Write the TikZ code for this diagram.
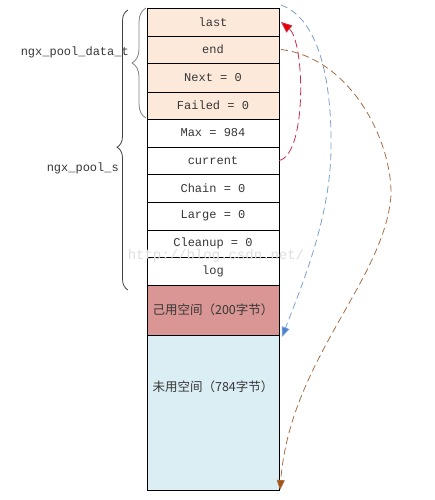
\documentclass[tikz,border=0pt]{standalone}
\usepackage{fontspec}
\setmainfont{Liberation Mono}
\newfontfamily\cjk{Noto Sans CJK SC}
\usetikzlibrary{arrows.meta,decorations.pathreplacing}
\definecolor{peach}{RGB}{252,233,218}
\definecolor{usedc}{RGB}{217,150,148}
\definecolor{freec}{RGB}{219,238,244}
\definecolor{txt}{RGB}{55,55,55}
\definecolor{redc}{RGB}{205,45,75}
\definecolor{redhead}{RGB}{230,0,0}
\definecolor{bluec}{RGB}{120,160,205}
\definecolor{bluehead}{RGB}{70,130,210}
\definecolor{brownc}{RGB}{165,110,70}
\definecolor{brownhead}{RGB}{170,80,10}
\tikzset{
  cell/.style={draw=black, line width=0.7pt, minimum width=132pt, inner sep=0pt, outer sep=0pt, text=txt, font=\fontsize{12}{14}\selectfont},
  lbl/.style={text=txt, font=\fontsize{12}{14}\selectfont, inner sep=0pt},
  cjktext/.style={font=\cjk\fontsize{12.5}{14}\selectfont},
  ptr/.style={dash pattern=on 7pt off 4pt, line width=0.8pt},
  bracestyle/.style={decorate, line width=0.8pt}
}
\begin{document}
\begin{tikzpicture}[x=1pt,y=-1pt]
\useasboundingbox (0,0) rectangle (435,500);
% rows
\node[cell, fill=peach, minimum height=28pt] (last) at (213,22) {last};
\node[cell, fill=peach, minimum height=27pt] (end) at (213,49.5) {end};
\node[cell, fill=peach, minimum height=29pt] (next) at (213,77.5) {Next = 0};
\node[cell, fill=peach, minimum height=27pt] (failed) at (213,105.5) {Failed = 0};
\node[cell, fill=white, minimum height=28pt] (max) at (213,133) {Max = 984};
\node[cell, fill=white, minimum height=27pt] (current) at (213,160.5) {current};
\node[cell, fill=white, minimum height=28pt] (chain) at (213,188) {Chain = 0};
\node[cell, fill=white, minimum height=28pt] (large) at (213,216) {Large = 0};
\node[cell, fill=white, minimum height=27pt] (cleanup) at (213,243.5) {Cleanup = 0};
\node[cell, fill=white, minimum height=28pt] (log) at (213,271) {log};
\node[cell, cjktext, fill=usedc, minimum height=50pt] (used) at (213,310) {己用空间（200字节）};
\node[cell, fill=freec, minimum height=155pt] (free) at (213,412.5) {};
\node[lbl, cjktext] (freetext) at (213,387) {未用空间（784字节）};
% watermark
\node[text=black!13, font=\fontsize{14}{16}\selectfont, inner sep=0pt] (wm) at (216,256) {http://blog.csdn.net/};
% braces
\coordinate (ib1) at (146,118);
\coordinate (ib2) at (146,8);
\draw[bracestyle, draw=black!50, decoration={brace, amplitude=14pt, aspect=0.5}] (ib1) -- (ib2);
\coordinate (ob1) at (128,290);
\coordinate (ob2) at (128,10);
\draw[bracestyle, draw=black!75, decoration={brace, amplitude=11pt, aspect=0.51}] (ob1) -- (ob2);
\node[lbl, anchor=east] (datat) at (129,52) {ngx\_pool\_data\_t};
\node[lbl, anchor=east] (pools) at (119,168) {ngx\_pool\_s};
% pointers
\draw[ptr, draw=redc, dash pattern=on 8pt off 4pt, -{Triangle[length=11pt,width=9pt,fill=redhead]}]
  (current.east) .. controls (307,155) and (305,42) .. ([xshift=2pt]last.east);
\draw[ptr, draw=bluec, -{Triangle[length=10pt,width=8pt,fill=bluehead]}]
  ([shift={(2pt,3pt)}]last.north east) .. controls (322,20) and (332,90) .. (331,150)
  .. controls (330,220) and (300,290) .. ([shift={(3pt,-2pt)}]used.south east);
\draw[ptr, draw=brownc, -{Triangle[length=10pt,width=8pt,fill=brownhead]}]
  ([xshift=2pt]end.east) .. controls (350,58) and (392,140) .. (391,195)
  .. controls (385,280) and (290,360) .. ([xshift=1pt]free.south east);
\end{tikzpicture}
\end{document}
